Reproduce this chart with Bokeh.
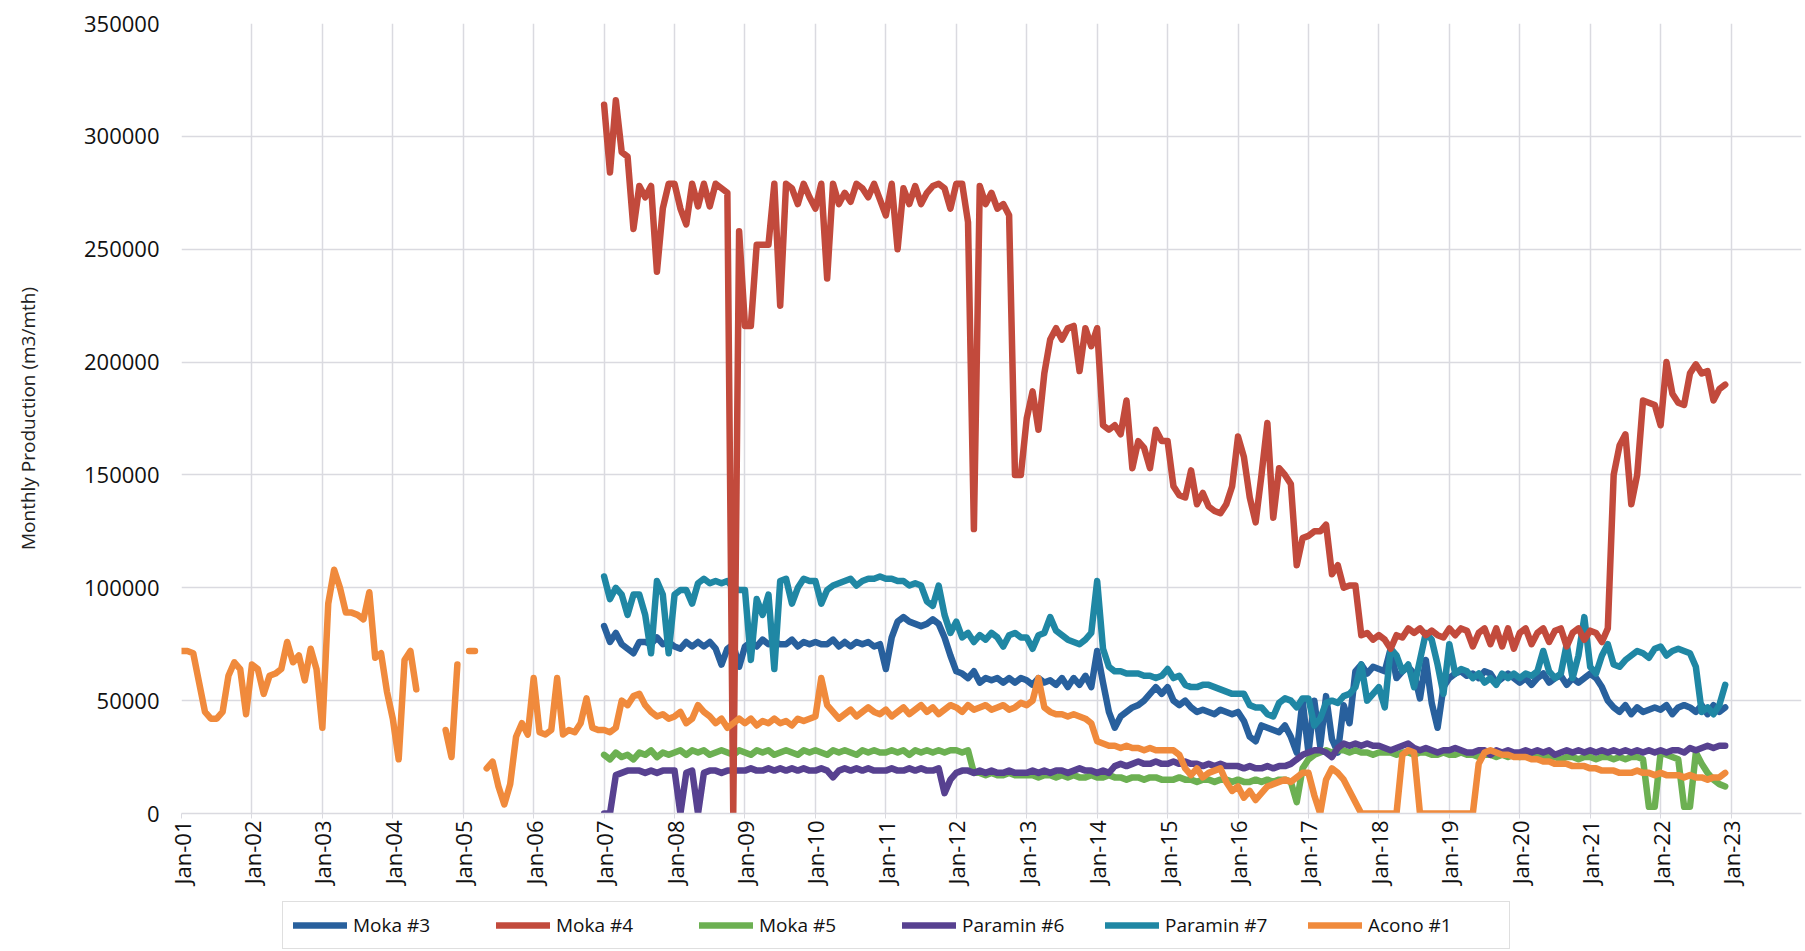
import numpy as np
from bokeh.plotting import figure
from bokeh.layouts import column
from bokeh.models import (Legend, LegendItem, FixedTicker, BasicTickFormatter,
                          ColumnDataSource, Range1d)
from bokeh.embed import file_html
from bokeh.resources import INLINE

N = None  # no production reported that month (gap in the line)

# ---------------- DATA (thousand m3 per month, monthly Jan..Dec per row) -------------
tick_years = [2001, 2002, 2003, 2004, 2005, 2006, 2007, 2008, 2009, 2010, 2011, 2012,
              2013, 2014, 2015, 2016, 2017, 2018, 2019, 2020, 2021, 2022, 2023]
tick_labels = ["Jan-01", "Jan-02", "Jan-03", "Jan-04", "Jan-05", "Jan-06", "Jan-07",
               "Jan-08", "Jan-09", "Jan-10", "Jan-11", "Jan-12", "Jan-13", "Jan-14",
               "Jan-15", "Jan-16", "Jan-17", "Jan-18", "Jan-19", "Jan-20", "Jan-21",
               "Jan-22", "Jan-23"]
y_ticks = [0, 50000, 100000, 150000, 200000, 250000, 300000, 350000]

series_names = ["Moka #3", "Moka #4", "Moka #5", "Paramin #6", "Paramin #7", "Acono #1"]
series_start = {"Moka #3": 2007, "Moka #4": 2007, "Moka #5": 2007,
                "Paramin #6": 2007, "Paramin #7": 2007, "Acono #1": 2001}

moka3_k = [
    83, 76, 80, 75, 73, 71, 76, 76, 75, 78, 75, 76,   # 2007
    74, 73, 76, 74, 76, 74, 76, 73, 66, 73, 75, 65,   # 2008
    74, 76, 74, 77, 75, 76, 75, 75, 77, 74, 76, 75,   # 2009
    76, 75, 75, 77, 74, 76, 74, 76, 75, 76, 74, 75,   # 2010
    64, 78, 85, 87, 85, 84, 83, 84, 86, 84, 78, 70,   # 2011
    63, 62, 60, 63, 58, 60, 59, 60, 58, 60, 58, 60,   # 2012
    59, 57, 60, 58, 59, 57, 60, 56, 60, 57, 61, 56,   # 2013
    72, 58, 45, 38, 43, 45, 47, 48, 50, 53, 56, 53,   # 2014
    56, 50, 48, 50, 47, 45, 46, 45, 44, 46, 45, 44,   # 2015
    45, 41, 34, 32, 39, 38, 37, 36, 39, 34, 27, 50,   # 2016
    27, 50, 30, 52, 33, 27, 48, 40, 63, 66, 62, 65,   # 2017
    64, 63, 73, 60, 63, 65, 62, 51, 68, 49, 38, 56,   # 2018
    60, 62, 63, 61, 62, 60, 63, 62, 58, 60, 62, 60,   # 2019
    58, 60, 57, 60, 62, 58, 60, 61, 57, 60, 58, 60,   # 2020
    62, 60, 56, 50, 47, 45, 48, 44, 47, 45, 46, 47,   # 2021
    46, 48, 44, 47, 48, 47, 45, 48, 44, 48, 45, 47,   # 2022
]
moka4_k = [
    314, 284, 316, 293, 291, 259, 278, 273, 278, 240, 268, 279,   # 2007
    279, 268, 261, 279, 269, 279, 269, 279, 277, 275, 0, 258,     # 2008
    216, 216, 252, 252, 252, 279, 225, 279, 277, 270, 279, 273,   # 2009
    268, 279, 237, 279, 270, 275, 271, 279, 277, 273, 279, 272,   # 2010
    265, 279, 250, 277, 270, 278, 270, 275, 278, 279, 277, 268,   # 2011
    279, 279, 262, 126, 278, 270, 275, 268, 270, 265, 150, 150,   # 2012
    175, 187, 170, 195, 210, 215, 210, 215, 216, 196, 215, 207,   # 2013
    215, 172, 170, 172, 168, 183, 153, 165, 162, 153, 170, 165,   # 2014
    165, 145, 141, 140, 152, 137, 142, 136, 134, 133, 137, 145,   # 2015
    167, 158, 140, 129, 150, 173, 131, 153, 150, 146, 110, 122,   # 2016
    123, 125, 125, 128, 106, 110, 100, 101, 101, 79, 80, 77,      # 2017
    79, 77, 73, 79, 78, 82, 80, 82, 79, 81, 79, 78,               # 2018
    82, 79, 82, 81, 74, 80, 82, 75, 82, 74, 82, 73,               # 2019
    80, 82, 75, 80, 82, 76, 81, 82, 74, 80, 82, 77,               # 2020
    81, 80, 76, 82, 150, 163, 168, 137, 150, 183, 182, 181,       # 2021
    172, 200, 186, 182, 181, 195, 199, 195, 196, 183, 188, 190,   # 2022
]
moka5_k = [
    26, 24, 27, 25, 26, 24, 27, 26, 28, 25, 27, 26,   # 2007
    27, 28, 26, 28, 27, 28, 26, 27, 28, 27, 26, 28,   # 2008
    27, 26, 28, 27, 28, 26, 27, 28, 27, 26, 28, 27,   # 2009
    28, 27, 26, 28, 27, 28, 27, 26, 28, 27, 28, 27,   # 2010
    27, 28, 27, 28, 26, 28, 27, 28, 27, 28, 27, 28,   # 2011
    28, 27, 28, 18, 18, 17, 18, 17, 17, 18, 17, 17,   # 2012
    17, 17, 16, 17, 17, 16, 17, 16, 17, 16, 16, 17,   # 2013
    16, 16, 17, 16, 16, 15, 16, 16, 15, 16, 16, 15,   # 2014
    15, 15, 16, 15, 15, 14, 15, 15, 14, 15, 15, 14,   # 2015
    15, 14, 14, 15, 14, 15, 14, 15, 15, 14, 5, 20,    # 2016
    24, 26, 27, 28, 27, 28, 28, 27, 28, 27, 27, 26,   # 2017
    27, 27, 27, 26, 27, 27, 26, 27, 27, 26, 26, 27,   # 2018
    26, 26, 27, 26, 26, 25, 26, 26, 25, 26, 25, 26,   # 2019
    25, 26, 25, 25, 26, 25, 25, 24, 25, 25, 24, 25,   # 2020
    25, 24, 25, 25, 24, 25, 24, 25, 25, 24, 3, 3,     # 2021
    27, 26, 25, 24, 3, 3, 27, 22, 18, 15, 13, 12,     # 2022
]
paramin6_k = [
    0, 0, 17, 18, 19, 19, 19, 18, 19, 18, 19, 19,     # 2007
    19, 0, 18, 19, 0, 18, 19, 19, 18, 19, 19, 19,     # 2008
    19, 20, 19, 19, 20, 19, 20, 19, 20, 19, 20, 19,   # 2009
    19, 20, 19, 16, 19, 20, 19, 20, 19, 20, 19, 19,   # 2010
    19, 20, 19, 19, 20, 19, 20, 19, 19, 20, 9, 15,    # 2011
    18, 19, 19, 18, 19, 18, 19, 18, 18, 19, 18, 18,   # 2012
    18, 19, 18, 19, 18, 19, 19, 18, 19, 20, 19, 19,   # 2013
    18, 19, 18, 21, 22, 21, 22, 23, 22, 22, 23, 22,   # 2014
    22, 23, 22, 23, 22, 22, 21, 22, 21, 22, 21, 21,   # 2015
    21, 20, 21, 20, 20, 21, 20, 21, 21, 22, 24, 26,   # 2016
    27, 28, 28, 27, 25, 29, 31, 30, 31, 30, 31, 30,   # 2017
    30, 29, 28, 29, 30, 31, 29, 28, 29, 28, 27, 28,   # 2018
    28, 29, 28, 27, 27, 28, 28, 26, 28, 27, 28, 27,   # 2019
    27, 28, 27, 28, 27, 28, 26, 27, 28, 27, 28, 27,   # 2020
    28, 27, 28, 27, 28, 27, 28, 27, 28, 27, 28, 27,   # 2021
    28, 27, 28, 28, 27, 29, 28, 29, 30, 29, 30, 30,   # 2022
]
paramin7_k = [
    105, 95, 100, 97, 88, 97, 97, 88, 71, 103, 97, 71,      # 2007
    97, 99, 99, 93, 102, 104, 102, 103, 102, 103, 100, 99,  # 2008
    99, 68, 95, 88, 97, 64, 103, 104, 93, 100, 104, 103,    # 2009
    103, 93, 99, 101, 102, 103, 104, 101, 103, 104, 104, 105,  # 2010
    104, 104, 103, 103, 101, 102, 101, 94, 92, 101, 88, 80, # 2011
    85, 78, 80, 76, 79, 77, 80, 78, 74, 79, 80, 78,         # 2012
    78, 73, 79, 80, 87, 81, 79, 77, 76, 75, 77, 80,         # 2013
    103, 73, 65, 63, 63, 62, 62, 62, 61, 61, 60, 61,        # 2014
    64, 60, 61, 57, 56, 56, 57, 57, 56, 55, 54, 53,         # 2015
    53, 53, 48, 47, 47, 44, 43, 49, 51, 50, 47, 51,         # 2016
    51, 39, 42, 49, 50, 49, 52, 53, 56, 66, 50, 53,         # 2017
    56, 47, 73, 70, 63, 66, 56, 68, 80, 77, 66, 53,         # 2018
    75, 62, 64, 63, 60, 62, 58, 60, 57, 62, 60, 62,         # 2019
    60, 62, 61, 63, 72, 63, 60, 62, 75, 60, 70, 87,         # 2020
    65, 62, 70, 75, 66, 65, 68, 70, 72, 71, 69, 73,         # 2021
    74, 70, 72, 73, 72, 71, 65, 45, 47, 44, 48, 57,         # 2022
]
acono1_k = [
    72, 72, 71, 58, 45, 42, 42, 45, 61, 67, 64, 44,   # 2001
    66, 64, 53, 61, 62, 64, 76, 67, 70, 59, 73, 64,   # 2002
    38, 93, 108, 100, 89, 89, 88, 86, 98, 69, 71, 54, # 2003
    42, 24, 68, 72, 55, N, N, N, N, 37, 25, 66,       # 2004
    N, 72, 72, N, 20, 23, 12, 4, 13, 34, 40, 35,      # 2005
    60, 36, 35, 37, 60, 35, 37, 36, 40, 51, 38, 37,   # 2006
    37, 36, 38, 50, 48, 52, 53, 48, 45, 43, 44, 42,   # 2007
    43, 45, 40, 42, 48, 45, 43, 40, 42, 38, 40, 42,   # 2008
    40, 42, 39, 41, 40, 42, 40, 41, 39, 42, 41, 42,   # 2009
    43, 60, 48, 45, 42, 44, 46, 43, 45, 47, 45, 44,   # 2010
    46, 43, 45, 47, 44, 46, 48, 45, 47, 44, 46, 48,   # 2011
    47, 45, 48, 46, 47, 48, 46, 47, 48, 46, 47, 49,   # 2012
    48, 50, 60, 47, 45, 44, 44, 43, 44, 43, 42, 40,   # 2013
    32, 31, 30, 30, 29, 30, 29, 29, 28, 29, 28, 28,   # 2014
    28, 28, 26, 20, 17, 20, 16, 18, 19, 20, 14, 10,   # 2015
    12, 7, 10, 6, 9, 12, 13, 14, 15, 14, 16, 18,      # 2016
    18, 8, 0, 15, 20, 18, 15, 10, 5, 0, 0, 0,         # 2017
    0, 0, 0, 0, 26, 28, 27, 0, 0, 0, 0, 0,            # 2018
    0, 0, 0, 0, 0, 22, 27, 28, 27, 26, 26, 25,        # 2019
    25, 25, 24, 24, 23, 23, 22, 22, 22, 21, 21, 21,   # 2020
    20, 20, 19, 19, 19, 18, 18, 18, 19, 18, 18, 17,   # 2021
    18, 17, 17, 17, 16, 17, 16, 16, 15, 16, 16, 18,   # 2022
]
series_values_k = {"Moka #3": moka3_k, "Moka #4": moka4_k, "Moka #5": moka5_k,
                   "Paramin #6": paramin6_k, "Paramin #7": paramin7_k, "Acono #1": acono1_k}

# ---------------- STYLE ----------------
colors = {"Moka #3": "#28609d", "Moka #4": "#c24a3c", "Moka #5": "#6cb052",
          "Paramin #6": "#574190", "Paramin #7": "#1f87a4", "Acono #1": "#f08a3c"}
draw_order = ["Moka #3", "Moka #5", "Paramin #6", "Paramin #7", "Moka #4", "Acono #1"]
FONT = "Open Sans"
GRID = "#dadae0"
LW = 6.5

p = figure(width=1805, height=890,
           x_range=Range1d(2001, 2024), y_range=Range1d(0, 350000),
           output_backend="svg", toolbar_location=None,
           min_border_left=181, min_border_top=23, min_border_right=4, min_border_bottom=77,
           background_fill_color="white", border_fill_color="white")
p.outline_line_color = None

renderers = {}
for name in draw_order:
    vals = np.array(series_values_k[name], dtype=float) * 1000.0
    x = series_start[name] + np.arange(len(vals)) / 12.0
    src = ColumnDataSource(dict(x=x, y=vals))
    renderers[name] = p.line("x", "y", source=src, line_color=colors[name], line_width=LW,
                             line_join="round", line_cap="round")

# axes
p.xaxis.ticker = FixedTicker(ticks=tick_years)
p.xaxis.major_label_overrides = {yr: lab for yr, lab in zip(tick_years, tick_labels)}
p.xaxis.major_label_orientation = np.pi / 2
p.xaxis.major_label_text_font = FONT
p.xaxis.major_label_text_font_size = "22px"
p.xaxis.major_label_text_color = "#111111"
p.xaxis.major_label_standoff = 2
p.xaxis.axis_line_color = GRID
p.xaxis.axis_line_width = 1.5
p.xaxis.major_tick_line_color = GRID
p.xaxis.major_tick_out = 5
p.xaxis.major_tick_in = 0
p.xaxis.minor_tick_line_color = None

p.yaxis.ticker = FixedTicker(ticks=y_ticks)
p.yaxis.formatter = BasicTickFormatter(use_scientific=False)
p.yaxis.major_label_text_font = FONT
p.yaxis.major_label_text_font_size = "22px"
p.yaxis.major_label_text_color = "#111111"
p.yaxis.major_label_standoff = 22
p.yaxis.axis_line_color = None
p.yaxis.major_tick_line_color = None
p.yaxis.major_tick_out = 0
p.yaxis.major_tick_in = 0
p.yaxis.minor_tick_line_color = None
p.yaxis.axis_label = "Monthly Production (m3/mth)"
p.yaxis.axis_label_text_font = FONT
p.yaxis.axis_label_text_font_size = "19px"
p.yaxis.axis_label_text_font_style = "normal"
p.yaxis.axis_label_text_color = "#222222"
p.yaxis.axis_label_standoff = 40

p.xgrid.ticker = FixedTicker(ticks=tick_years + [2024])
p.xgrid.grid_line_color = GRID
p.xgrid.grid_line_width = 1.5
p.ygrid.grid_line_color = GRID
p.ygrid.grid_line_width = 1.5

# ---------------- legend strip below the chart ----------------
lg = figure(width=1805, height=61, x_range=Range1d(0, 1), y_range=Range1d(0, 1),
            output_backend="svg", toolbar_location=None,
            min_border_left=0, min_border_right=0, min_border_top=0, min_border_bottom=0,
            background_fill_color="white", border_fill_color="white")
lg.axis.visible = False
lg.grid.visible = False
lg.outline_line_color = None
leg_r = {}
for name in series_names:
    # key glyph only: a line kept outside the strip's visible range
    leg_r[name] = lg.line(x=[-5, -4], y=[-5, -4], line_color=colors[name], line_width=LW,
                          line_join="round", line_cap="round")

legend = Legend(items=[LegendItem(label=n, renderers=[leg_r[n]]) for n in series_names],
                orientation="horizontal", location=(101, 2))
legend.label_text_font = FONT
legend.label_text_font_size = "19px"
legend.label_text_color = "#111111"
legend.glyph_width = 54
legend.glyph_height = 26
legend.label_height = 26
legend.label_width = 131
legend.label_standoff = 6
legend.spacing = 12
legend.padding = 10
legend.margin = 0
legend.border_line_color = "#bfbfbf"
legend.border_line_width = 1.5
legend.background_fill_color = "white"
lg.add_layout(legend, "center")

layout = column(p, lg, spacing=0)
open("out.html", "w").write(file_html(layout, INLINE))
